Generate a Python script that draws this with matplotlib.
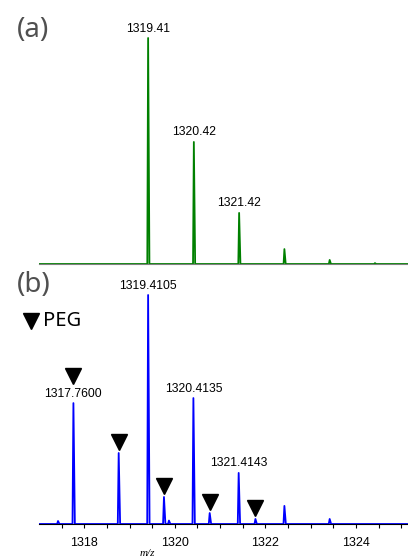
import matplotlib as mpl
import matplotlib.pyplot as plt
from matplotlib.lines import Line2D
from matplotlib.transforms import offset_copy

mpl.use('Agg')

# (a) simulated isotope pattern
mz_a = [1319.41, 1320.42, 1321.42, 1322.42, 1323.42, 1324.42]
int_a = [1.0, 0.54, 0.226, 0.066, 0.018, 0.004]
lab_a = ["1319.41", "1320.42", "1321.42", "", "", ""]

# (b) measured spectrum
mz_b = [1317.42, 1317.76, 1318.76, 1319.41, 1319.76, 1319.87, 1320.41,
        1320.77, 1321.41, 1321.78, 1322.42, 1323.42]
int_b = [0.013, 0.528, 0.31, 1.0, 0.118, 0.015, 0.55,
         0.048, 0.223, 0.022, 0.079, 0.022]
lab_b = ["", "1317.7600", "", "1319.4105", "", "", "1320.4135",
         "", "1321.4143", "", "", ""]
peg_b = [False, True, True, False, True, False, False,
         True, False, True, False, False]

W, H = 408, 560
fig = plt.figure(figsize=(W / 100, H / 100), dpi=100)

def stick(mz, inten, w):
    xs, ys = [], []
    for m, i in zip(mz, inten):
        xs += [m - w, m, m + w * 1.6]
        ys += [0, i, 0]
    return xs, ys

xlim = (1317.0, 1325.15)
numfont = dict(family='Liberation Sans', size=8.7)

axa = fig.add_axes([39 / W, 1 - 264 / H, 1 - 39 / W, 244 / H])
xs, ys = stick(mz_a, int_a, 0.018)
axa.plot([xlim[0]] + xs + [xlim[1]], [0] + ys + [0], color='#008000', lw=1.3)
axa.set_xlim(*xlim)
axa.set_ylim(0, 244 / 226)
for s in ['top', 'right', 'left']:
    axa.spines[s].set_visible(False)
axa.spines['bottom'].set_color('#808080')
axa.set_xticks([])
axa.set_yticks([])
for m, i, t in zip(mz_a, int_a, lab_a):
    if t:
        axa.annotate(t, (m, i), xytext=(0, 2.5), textcoords='offset points',
                     ha='center', va='bottom', **numfont)

axb = fig.add_axes([39 / W, 1 - 524 / H, 1 - 39 / W, 244 / H])
xs, ys = stick(mz_b, int_b, 0.02)
axb.plot([xlim[0]] + xs + [xlim[1]], [0] + ys + [0], color='#0000ff', lw=1.3)
axb.set_xlim(*xlim)
axb.set_ylim(0, 244 / 229)
for s in ['top', 'right', 'left']:
    axb.spines[s].set_visible(False)
axb.set_yticks([])
axb.set_xticks([1318, 1320, 1322, 1324])
axb.set_xticks([x / 2 for x in range(2635, 2651)], minor=True)
axb.tick_params(axis='x', which='both', direction='out', length=3, width=0.8, pad=6)
for lbl in axb.get_xticklabels():
    lbl.set_fontfamily('Liberation Sans')
    lbl.set_fontsize(9)
for m, i, t, p in zip(mz_b, int_b, lab_b, peg_b):
    if t:
        axb.annotate(t, (m, i), xytext=(0, 2.5), textcoords='offset points',
                     ha='center', va='bottom', **numfont)
    if p:
        dy = 27 if t else 11
        tr = offset_copy(axb.transData, fig=fig, y=dy, units='dots')
        axb.plot([m], [i], marker='v', color='black', ms=11.5, transform=tr,
                 clip_on=False)

fig.text(17 / W, 1 - 30 / H, "(a)", family='Noto Sans', size=20, color='#505050',
         ha='left', va='center')
fig.text(17 / W, 1 - 285 / H, "(b)", family='Noto Sans', size=20, color='#505050',
         ha='left', va='center')
fig.add_artist(Line2D([31 / W], [1 - 321 / H], marker='v', color='black', ms=11.5,
                      transform=fig.transFigure))
fig.text(43 / W, 1 - 321 / H, "PEG", family='Noto Sans', size=14.5, color='black',
         ha='left', va='center')
fig.text(147 / W, 1 - 553 / H, "m/z", family='Liberation Serif', style='italic',
         size=8, ha='center', va='center')

fig.savefig('out.png', dpi=100)
